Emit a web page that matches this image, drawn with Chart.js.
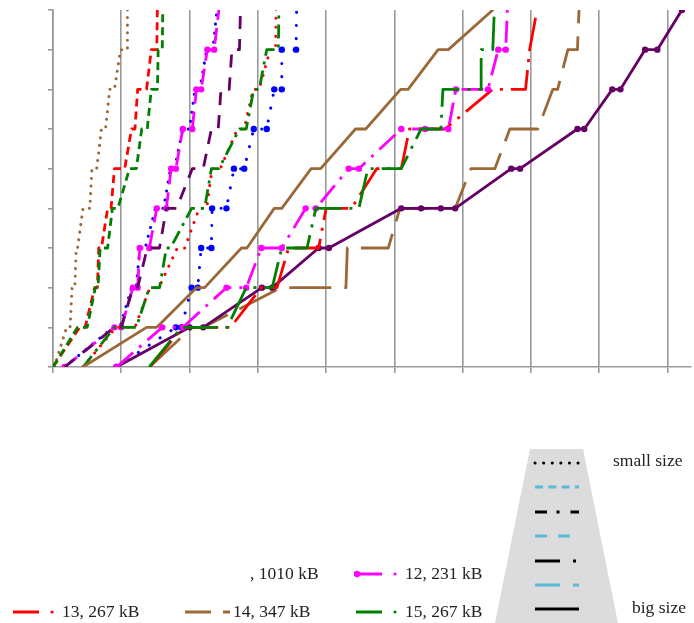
<!DOCTYPE html>
<html>
<head>
<meta charset="utf-8">
<script src="https://cdn.jsdelivr.net/npm/chart.js@4.4.1/dist/chart.umd.min.js"></script>
<style>
	html, body { margin: 0; padding: 0; background: #fff; }
	#wrap { position: relative; width: 694px; height: 623px; overflow: hidden; }
	#chart { position: absolute; left: 0; top: 0; }
	#overlay { position: absolute; left: 0; top: 0; }
	#overlay text { font-family: 'Liberation Serif', serif; font-size: 17.5px; fill: #222; }
</style>
</head>
<body>
<div id="wrap">
	<canvas id="chart" width="694" height="623"></canvas>
	<svg id="overlay" width="694" height="623">
		<!-- size key -->
		<polygon points="530,449 583,449 618,623 495,623" fill="#dcdcdc" />
		<g stroke-width="3" fill="none">
			<line x1="535" y1="463" x2="579" y2="463" stroke="#000" stroke-linecap="round" stroke-dasharray="0.1 8.5" />
			<line x1="535" y1="487" x2="579" y2="487" stroke="#5bbad5" stroke-dasharray="8 5.3" />
			<line x1="535" y1="512" x2="579" y2="512" stroke="#000" stroke-dasharray="12 9.5 3 11" />
			<line x1="535" y1="536" x2="579" y2="536" stroke="#5bbad5" stroke-dasharray="12 11" />
			<line x1="535" y1="561" x2="579" y2="561" stroke="#000" stroke-dasharray="25 13 3 10" />
			<line x1="535" y1="585" x2="579" y2="585" stroke="#5bbad5" stroke-dasharray="25 13" />
			<line x1="535" y1="609" x2="579" y2="609" stroke="#000" />
		</g>
		<text x="613" y="466">small size</text>
		<text x="632" y="613">big size</text>

		<!-- legend -->
		<g stroke-width="3" fill="none">
			<line x1="355" y1="574" x2="382" y2="574" stroke="#ff00ff" />
			<line x1="13" y1="612" x2="39" y2="612" stroke="#ff0000" />
			<line x1="185" y1="612" x2="211" y2="612" stroke="#9b6938" />
			<line x1="223" y1="612" x2="230" y2="612" stroke="#9b6938" />
			<line x1="356" y1="612" x2="382" y2="612" stroke="#008000" />
		</g>
		<circle cx="357" cy="574" r="3.2" fill="#ff00ff" />
		<circle cx="395" cy="574" r="1.6" fill="#ff00ff" />
		<circle cx="52" cy="612" r="1.6" fill="#ff0000" />
		<circle cx="395" cy="612" r="1.6" fill="#008000" />
		<text x="250" y="579">, 1010 kB</text>
		<text x="405" y="579">12, 231 kB</text>
		<text x="62" y="617">13, 267 kB</text>
		<text x="233" y="617">14, 347 kB</text>
		<text x="405" y="617">15, 267 kB</text>
	</svg>
</div>
<script>
const $ = (id) => document.getElementById(id);

// --- Data (x, y pairs) ---

const brownDottedX = [0.02, 0.2, 0.25, 0.28, 0.32, 0.34, 0.36, 0.44, 0.54, 0.57, 0.64, 0.71, 0.77, 0.83, 0.9, 0.99, 1.09, 1.09];
const brownDottedY = [0, 1, 1, 2, 2, 3, 3, 4, 4, 5, 5, 6, 6, 7, 7, 8, 8, 9.3];

const redDashedX = [0, 0.39, 0.47, 0.61, 0.65, 0.67, 0.71, 0.8, 0.85, 0.9, 1.05, 1.15, 1.2, 1.24, 1.37, 1.44, 1.52, 1.53];
const redDashedY = [0, 1, 1, 2, 2, 3, 3, 4, 4, 5, 5, 6, 6, 7, 7, 8, 8, 9.3];

const greenDashedX = [0, 0.36, 0.5, 0.62, 0.66, 0.69, 0.8, 0.87, 0.95, 1.12, 1.22, 1.3, 1.38, 1.44, 1.53, 1.54, 1.6, 1.61];
const greenDashedY = [0, 1, 1, 2, 2, 3, 3, 4, 4, 5, 5, 6, 6, 7, 7, 8, 8, 9.3];

const magentaDashedX = [0.17, 0.9, 1.0, 1.17, 1.24, 1.27, 1.41, 1.52, 1.66, 1.73, 1.8, 1.9, 2.04, 2.1, 2.17, 2.26, 2.36, 2.45];
const magentaDashedY = [0, 1, 1, 2, 2, 3, 3, 4, 4, 5, 5, 6, 6, 7, 7, 8, 8, 9.3];

const blueFastX = [0.17, 0.88, 0.98, 1.15, 1.22, 1.27, 1.35, 1.5, 1.62, 1.72, 1.78, 1.9, 2.0, 2.08, 2.15, 2.25, 2.34, 2.42];
const blueFastY = [0, 1, 1, 2, 2, 3, 3, 4, 4, 5, 5, 6, 6, 7, 7, 8, 8, 9.3];

const purpleDashedX = [0.17, 0.9, 1.0, 1.17, 1.24, 1.38, 1.56, 1.66, 1.81, 2.04, 2.2, 2.32, 2.42, 2.46, 2.58, 2.62, 2.73, 2.75];
const purpleDashedY = [0, 1, 1, 2, 2, 3, 3, 4, 4, 5, 5, 6, 6, 7, 7, 8, 8, 9.3];

const blueDottedX = [0.93, 1.8, 1.88, 2.03, 2.12, 2.17, 2.32, 2.33, 2.54, 2.65, 2.8, 2.94, 3.13, 3.24, 3.35, 3.35, 3.56, 3.57];
const blueDottedY = [0, 1, 1, 2, 2, 3, 3, 4, 4, 5, 5, 6, 6, 7, 7, 8, 8, 9.3];

const redDottedX = [0.44, 0.92, 1.2, 1.42, 1.55, 1.82, 1.93, 2.14, 2.25, 2.33, 2.45, 2.7, 2.8, 2.93, 3.02, 3.18, 3.26, 3.27];
const redDottedY = [0, 1, 1, 2, 2, 3, 3, 4, 4, 5, 5, 6, 6, 7, 7, 8, 8, 9.3];

const greenDashDotX = [0.44, 0.9, 1.22, 1.41, 1.56, 1.66, 1.72, 2.03, 2.22, 2.32, 2.43, 2.73, 2.83, 2.94, 3.02, 3.13, 3.3, 3.31];
const greenDashDotY = [0, 1, 1, 2, 2, 3, 3, 4, 4, 5, 5, 6, 6, 7, 7, 8, 8, 9.3];

const brownSolidX = [0.44, 1.37, 1.52, 2.1, 2.22, 2.76, 2.84, 3.24, 3.35, 3.78, 3.92, 4.43, 4.58, 5.09, 5.2, 5.64, 5.79, 6.44, 6.48];
const brownSolidY = [0, 1, 1, 2, 2, 3, 3, 4, 4, 5, 5, 6, 6, 7, 7, 8, 8, 9, 9.1];

const magentaDashDotX = [0.93, 1.6, 1.9, 2.54, 2.83, 3.05, 3.35, 3.7, 3.85, 4.33, 4.48, 5.1, 5.45, 5.79, 5.9, 6.37, 6.52, 6.63, 6.66];
const magentaDashDotY = [0, 1, 1, 2, 2, 3, 3, 4, 4, 5, 5, 6, 6, 6, 7, 7, 8, 8, 9.3];

const brownLongDashX = [1.41, 2.04, 2.2, 3.34, 4.29, 4.31, 4.91, 5.08, 5.89, 6.12, 6.47, 6.69, 7.1, 7.32, 7.39, 7.54, 7.68, 7.71];
const brownLongDashY = [0, 1, 1, 2, 2, 3, 3, 4, 4, 5, 5, 6, 6, 7, 7, 8, 8, 9.3];

const purpleSolidX = [0.93, 2.0, 2.2, 3.06, 3.21, 3.89, 4.04, 5.1, 5.39, 5.68, 5.89, 6.71, 6.84, 7.68, 7.78, 8.19, 8.31, 8.67, 8.85, 9.21, 9.32];
const purpleSolidY = [0, 1, 1, 2, 2, 3, 3, 4, 4, 4, 4, 5, 5, 6, 6, 7, 7, 8, 8, 9, 9.3];

const redSlowX = [1.42, 1.9, 2.6, 3.05, 3.28, 3.45, 3.89, 4.0, 4.37, 4.74, 5.1, 5.22, 5.74, 6.44, 6.92, 6.98, 7.12];
const redSlowY = [0, 1, 1, 2, 2, 3, 3, 4, 4, 5, 5, 6, 6, 7, 7, 8, 9.3];

const greenSlowX = [1.41, 1.88, 2.55, 2.83, 3.21, 3.35, 3.72, 3.85, 4.48, 4.61, 5.1, 5.39, 5.68, 5.71, 6.27, 6.27, 6.44, 6.47];
const greenSlowY = [0, 1, 1, 2, 2, 3, 3, 4, 4, 5, 5, 6, 6, 7, 7, 8, 8, 9.3];

const xTicks = [0, 1, 2, 3, 4, 5, 6, 7, 8, 9];
const yTicks = [0, 1, 2, 3, 4, 5, 6, 7, 8, 9];

// --- Colours ---

const BROWN = '#9b6938';
const RED = '#ff0000';
const GREEN = '#008000';
const MAGENTA = '#ff00ff';
const BLUE = '#0000ff';
const PURPLE = '#660066';
const GRID = '#999999';

// --- Chart ---

function toPoints(xs, ys) {
	return xs.map((x, i) => ({ x, y: ys[i] }));
}

function series(xs, ys, color, dash, opts = {}) {
	return {
		data: toPoints(xs, ys),
		borderColor: color,
		backgroundColor: color,
		borderWidth: opts.width ?? 2.8,
		borderDash: dash,
		borderCapStyle: opts.cap ?? 'butt',
		borderJoinStyle: 'round',
		pointRadius: opts.marker ?? 0,
		pointHoverRadius: 0,
		pointBorderWidth: 0,
		pointBackgroundColor: color,
		fill: false,
		tension: 0,
	};
}

// first dataset is painted on top
const datasets = [
	series(greenSlowX, greenSlowY, GREEN, [34, 8, 3, 8]),
	series(magentaDashDotX, magentaDashDotY, MAGENTA, [22, 8, 3, 8], { marker: 3.2 }),
	series(redSlowX, redSlowY, RED, [34, 8, 3, 8]),
	series(purpleSolidX, purpleSolidY, PURPLE, [], { marker: 3.2 }),
	series(brownLongDashX, brownLongDashY, BROWN, [42, 13]),
	series(brownSolidX, brownSolidY, BROWN, []),
	series(greenDashDotX, greenDashDotY, GREEN, [14, 6, 3, 6]),
	series(redDottedX, redDottedY, RED, [0.1, 9], { cap: 'round', width: 3 }),
	series(blueDottedX, blueDottedY, BLUE, [0.1, 13], { cap: 'round', width: 3, marker: 3.2 }),
	series(purpleDashedX, purpleDashedY, PURPLE, [13, 10]),
	series(magentaDashedX, magentaDashedY, MAGENTA, [16, 8], { marker: 3.2 }),
	series(blueFastX, blueFastY, BLUE, [0.1, 9], { cap: 'round', width: 3 }),
	series(greenDashedX, greenDashedY, GREEN, [8, 5]),
	series(redDashedX, redDashedY, RED, [8, 5]),
	series(brownDottedX, brownDottedY, BROWN, [0.1, 7.5], { cap: 'round', width: 3 }),
];

new Chart($('chart').getContext('2d'), {
	type: 'line',
	data: { datasets },
	options: {
		responsive: false,
		animation: false,
		devicePixelRatio: 1,
		layout: { padding: { left: 48, right: 0, top: 10, bottom: 250 } },
		plugins: { legend: { display: false }, tooltip: { enabled: false } },
		scales: {
			x: {
				type: 'linear',
				min: 0,
				max: 9.34,
				afterBuildTicks: (axis) => (axis.ticks = xTicks.map((v) => ({ value: v }))),
				ticks: { display: false },
				grid: { color: GRID, lineWidth: 1.6, tickLength: 6 },
				border: { color: GRID, width: 1.6 },
			},
			y: {
				type: 'linear',
				min: 0,
				max: 9,
				afterBuildTicks: (axis) => (axis.ticks = yTicks.map((v) => ({ value: v }))),
				ticks: { display: false },
				grid: { color: GRID, lineWidth: 1.6, tickLength: 5, drawOnChartArea: false },
				border: { color: GRID, width: 1.6 },
			},
		},
	},
});
</script>
</body>
</html>
